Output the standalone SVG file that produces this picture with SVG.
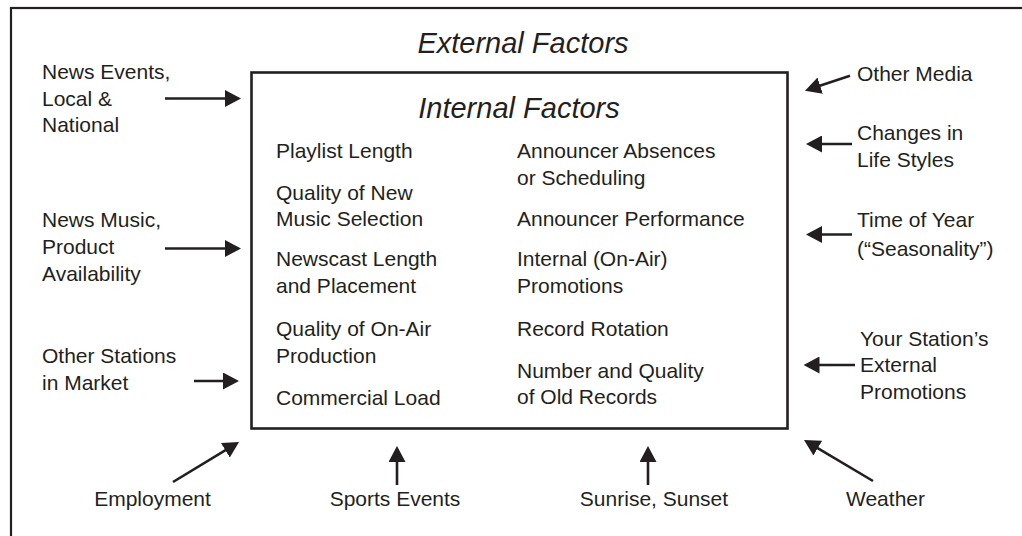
<svg xmlns="http://www.w3.org/2000/svg" width="1022" height="536" viewBox="0 0 1022 536">
<style>
text{font-family:"Liberation Sans",Arial,sans-serif;font-size:21px;fill:#231f20}
.t{font-size:29px;font-style:italic}
.c{text-anchor:middle}
.frame{fill:none;stroke:#231f20;stroke-width:2.2}
.box{fill:#fff;stroke:#231f20;stroke-width:2.6}
.arr{stroke:#231f20;stroke-width:2.6;fill:none;marker-end:url(#ah)}
</style>
<defs>
<marker id="ah" markerUnits="userSpaceOnUse" markerWidth="16" markerHeight="17" refX="6" refY="8.5" orient="auto" viewBox="0 0 16 17">
<path d="M0,0 L16,8.5 L0,17 z" fill="#231f20"/>
</marker>
</defs>
<rect width="1022" height="536" fill="#fff"/>
<rect class="frame" x="11" y="8" width="1040" height="560"/>
<text class="t c" x="523" y="53">External Factors</text>
<g id="internal">
<rect class="box" x="251.5" y="72.5" width="536" height="356"/>
<text class="t c" x="519" y="118">Internal Factors</text>
<text x="276" y="158">Playlist Length</text>
<text x="276" y="199.5">Quality of New</text>
<text x="276" y="226">Music Selection</text>
<text x="276" y="266">Newscast Length</text>
<text x="276" y="293">and Placement</text>
<text x="276" y="336">Quality of On-Air</text>
<text x="276" y="362.5">Production</text>
<text x="276" y="405">Commercial Load</text>
<text x="517" y="158">Announcer Absences</text>
<text x="517" y="184.5">or Scheduling</text>
<text x="517" y="226">Announcer Performance</text>
<text x="517" y="266">Internal (On-Air)</text>
<text x="517" y="293">Promotions</text>
<text x="517" y="336">Record Rotation</text>
<text x="517" y="378">Number and Quality</text>
<text x="517" y="403.5">of Old Records</text>
</g>
<g id="news-events"><text x="42" y="79">News Events,</text><text x="42" y="106">Local &amp;</text><text x="42" y="132">National</text></g>
<g id="news-music"><text x="42" y="227">News Music,</text><text x="42" y="253.5">Product</text><text x="42" y="281">Availability</text></g>
<g id="other-stations"><text x="42" y="363">Other Stations</text><text x="42" y="389.5">in Market</text></g>
<g id="employment"><text class="c" x="152.5" y="506">Employment</text></g>
<g id="sports"><text class="c" x="395" y="506">Sports Events</text></g>
<g id="sunrise"><text class="c" x="654" y="506">Sunrise, Sunset</text></g>
<g id="weather"><text class="c" x="885.5" y="506">Weather</text></g>
<g id="other-media"><text x="857" y="81">Other Media</text></g>
<g id="lifestyles"><text x="857" y="140">Changes in</text><text x="857" y="166.5">Life Styles</text></g>
<g id="time-of-year"><text x="857" y="227">Time of Year</text><text x="857" y="256">(“Seasonality”)</text></g>
<g id="promotions"><text x="860" y="346">Your Station’s</text><text x="860" y="372">External</text><text x="860" y="398.5">Promotions</text></g>
<g id="connectors">
<line class="arr" x1="165" y1="98.5" x2="231" y2="98.5"/>
<line class="arr" x1="165" y1="248.5" x2="231" y2="248.5"/>
<line class="arr" x1="194" y1="381" x2="229" y2="381"/>
<line class="arr" x1="173" y1="482" x2="230.5" y2="447.2"/>
<line class="arr" x1="397" y1="485" x2="397" y2="456"/>
<line class="arr" x1="648" y1="485" x2="648" y2="456"/>
<line class="arr" x1="873" y1="481" x2="812.6" y2="445.1"/>
<line class="arr" x1="850" y1="75.7" x2="814.5" y2="87.5"/>
<line class="arr" x1="852" y1="144" x2="816" y2="144"/>
<line class="arr" x1="852" y1="234.5" x2="816" y2="234.5"/>
<line class="arr" x1="855" y1="365" x2="813.5" y2="365"/>
</g>
</svg>
